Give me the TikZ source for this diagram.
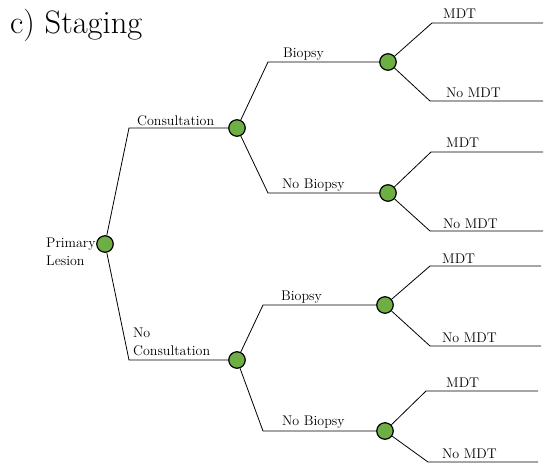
\documentclass[tikz,border=0pt]{standalone}
\usepackage{fontspec}
\definecolor{chance}{HTML}{6DAE45}
\begin{document}
\begin{tikzpicture}[x=1pt,y=-1pt,
  chnode/.style={circle,draw=black,line width=1.2pt,fill=chance,minimum size=16.5pt,inner sep=0pt},
  edge/.style={line width=0.8pt,black},
  lbl/.style={anchor=base west,inner sep=0pt,font=\fontsize{14}{17.5}\selectfont},
  ttl/.style={anchor=base west,inner sep=0pt,font=\fontsize{32.5}{36}\selectfont}]
\useasboundingbox (0,0) rectangle (544,475);
\node[ttl] (title) at (10,33) {c) Staging};
% decision nodes
\node[chnode] (P) at (105,244) {};
\node[chnode] (C) at (237,128) {};
\node[chnode] (NC) at (237,360) {};
\node[chnode] (CB) at (388,62) {};
\node[chnode] (CNB) at (388,193) {};
\node[chnode] (NCB) at (385,305) {};
\node[chnode] (NCNB) at (385,431) {};
% corners
\coordinate (cC) at (129,128);
\coordinate (cNC) at (129,360);
\coordinate (cCB) at (268,62);
\coordinate (cCNB) at (268,193);
\coordinate (cNCB) at (263,305);
\coordinate (cNCNB) at (263,431);
% leaves
\coordinate (a1) at (432,23);  \coordinate (a2) at (543,23);
\coordinate (b1) at (430,101); \coordinate (b2) at (543,101);
\coordinate (c1) at (431,152); \coordinate (c2) at (543,152);
\coordinate (d1) at (430,231); \coordinate (d2) at (543,231);
\coordinate (e1) at (430,266); \coordinate (e2) at (541,266);
\coordinate (f1) at (430,346); \coordinate (f2) at (541,346);
\coordinate (g1) at (426,391); \coordinate (g2) at (538,391);
\coordinate (h1) at (428,462); \coordinate (h2) at (538,462);
% edges
\draw[edge] (P) -- (cC) -- (C);
\draw[edge] (P) -- (cNC) -- (NC);
\draw[edge] (C) -- (cCB) -- (CB);
\draw[edge] (C) -- (cCNB) -- (CNB);
\draw[edge] (NC) -- (cNCB) -- (NCB);
\draw[edge] (NC) -- (cNCNB) -- (NCNB);
\draw[edge] (CB) -- (a1) -- (a2);
\draw[edge] (CB) -- (b1) -- (b2);
\draw[edge] (CNB) -- (c1) -- (c2);
\draw[edge] (CNB) -- (d1) -- (d2);
\draw[edge] (NCB) -- (e1) -- (e2);
\draw[edge] (NCB) -- (f1) -- (f2);
\draw[edge] (NCNB) -- (g1) -- (g2);
\draw[edge] (NCNB) -- (h1) -- (h2);
% labels
\node[lbl] (lp1) at (46,247) {Primary};
\node[lbl] (lp2) at (46,265) {Lesion};
\node[lbl] (lc) at (137,125) {Consultation};
\node[lbl] (lnc1) at (133,337) {No};
\node[lbl] (lnc2) at (133,355) {Consultation};
\node[lbl] (lcb) at (283,57) {Biopsy};
\node[lbl] (lcnb) at (282,188) {No Biopsy};
\node[lbl] (lncb) at (281,300) {Biopsy};
\node[lbl] (lncnb) at (282,425) {No Biopsy};
\node[lbl] (la) at (443,18) {MDT};
\node[lbl] (lb) at (446,97) {No MDT};
\node[lbl] (lc2) at (446,147) {MDT};
\node[lbl] (ld) at (443,228) {No MDT};
\node[lbl] (le) at (442,263) {MDT};
\node[lbl] (lf) at (442,342) {No MDT};
\node[lbl] (lg) at (446,387) {MDT};
\node[lbl] (lh) at (442,458) {No MDT};
\end{tikzpicture}
\end{document}
